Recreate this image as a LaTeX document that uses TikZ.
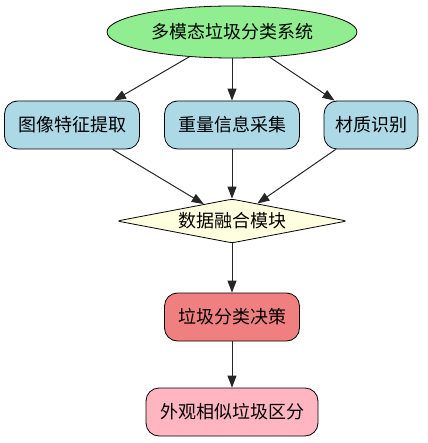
\documentclass[tikz,border=0pt]{standalone}
\usepackage{fontspec}
\newfontfamily\cjk{Noto Sans CJK SC}
\usetikzlibrary{shapes.geometric,arrows.meta}
\definecolor{lgreen}{RGB}{144,238,144}
\definecolor{lblue}{RGB}{173,216,230}
\definecolor{lyellow}{RGB}{255,255,224}
\definecolor{lcoral}{RGB}{240,128,128}
\definecolor{lpink}{RGB}{255,182,193}

\begin{document}
\begin{tikzpicture}[x=1pt,y=-1pt,
  every node/.style={font=\cjk\fontsize{18}{22}\selectfont,draw=black,line width=0.8pt,inner sep=0pt},
  topnode/.style={ellipse,fill=lgreen,minimum width=250pt,minimum height=52pt},
  stagebox/.style={rounded corners=13pt,fill=lblue,minimum height=48pt},
  fusenode/.style={diamond,rounded corners=3pt,fill=lyellow,shape aspect=5.2,minimum width=230pt,minimum height=44pt},
  flow/.style={-{Triangle[length=12pt,width=9pt]},line width=1pt,black!85}]
\useasboundingbox (0,0) rectangle (427,443);
% Top of the system
\node[topnode] (sys) at (232,32) {多模态垃圾分类系统};
% Three kinds of input
\node[stagebox,minimum width=135pt] (img) at (72,125) {图像特征提取};
\node[stagebox,minimum width=135pt] (wgt) at (232,125) {重量信息采集};
\node[stagebox,minimum width=94pt] (mat) at (371,125) {材质识别};
% Fusion and decision
\node[fusenode] (fuse) at (232,221) {数据融合模块};
\node[stagebox,fill=lcoral,minimum width=135pt] (dec) at (232,317) {垃圾分类决策};
\node[stagebox,fill=lpink,minimum width=172pt] (look) at (232,412) {外观相似垃圾区分};
% Connections
\draw[flow] (sys) -- (img);
\draw[flow] (sys) -- (wgt);
\draw[flow] (sys) -- (mat);
\draw[flow] (img) -- (fuse);
\draw[flow] (wgt) -- (fuse);
\draw[flow] (mat) -- (fuse);
\draw[flow] (fuse) -- (dec);
\draw[flow] (dec) -- (look);
\end{tikzpicture}
\end{document}
